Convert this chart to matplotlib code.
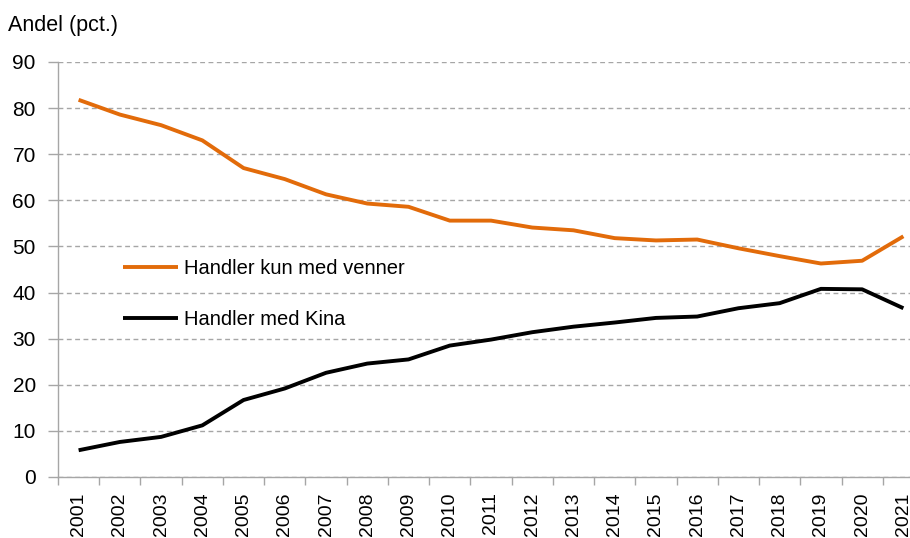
import matplotlib.pyplot as plt
from matplotlib.ticker import MultipleLocator, FixedLocator

plt.rcParams['font.family'] = ['Liberation Sans', 'DejaVu Sans']

years = [str(y) for y in range(2001, 2022)]
kun_venner = [81.8, 78.6, 76.3, 73.0, 67.0, 64.6, 61.3, 59.3, 58.6, 55.6, 55.6,
              54.1, 53.5, 51.8, 51.3, 51.5, 49.6, 47.9, 46.3, 46.9, 52.2]
med_kina = [5.8, 7.6, 8.7, 11.2, 16.7, 19.2, 22.6, 24.6, 25.5, 28.5, 29.8,
            31.4, 32.6, 33.5, 34.5, 34.8, 36.6, 37.7, 40.8, 40.7, 36.6]
labels = ['Handler kun med venner', 'Handler med Kina']


def draw_plot():
	""" Draws the chart and saves it """
	fig = plt.figure(figsize=(9.10, 5.38), dpi=100)
	# axes runs a bit past the right edge, like in the original
	ax = fig.add_axes([58 / 910, 61 / 538, 866 / 910, 415 / 538])
	x = list(range(len(years)))
	ax.plot(x, kun_venner, color='#E26B0A', lw=2.8, label=labels[0], solid_capstyle='butt')
	ax.plot(x, med_kina, color='black', lw=2.8, label=labels[1], solid_capstyle='butt')

	ax.set_xlim(-0.5, len(years) - 0.5)
	ax.set_ylim(0, 90)
	ax.yaxis.set_major_locator(MultipleLocator(10))
	ax.grid(axis='y', color='#A6A6A6', linestyle=(0, (3.5, 2.5)), lw=1)
	ax.set_axisbelow(True)

	ax.set_xticks(x)
	ax.set_xticklabels(years, rotation=90)
	ax.xaxis.set_minor_locator(FixedLocator([i - 0.5 for i in range(len(years) + 1)]))
	ax.tick_params(axis='x', which='major', length=0, pad=11, labelsize=14)
	ax.tick_params(axis='x', which='minor', length=6, color='#A6A6A6', width=1)
	ax.tick_params(axis='y', length=7, color='#A6A6A6', width=1, labelsize=15, pad=9)

	for side in ['top', 'right']:
		ax.spines[side].set_visible(False)
	for side in ['left', 'bottom']:
		ax.spines[side].set_color('#A6A6A6')
		ax.spines[side].set_linewidth(1)

	fig.text(8 / 910, 1 - 25 / 538, 'Andel (pct.)', fontsize=15.5, va='center', ha='left')

	ax.legend(loc='upper left', bbox_to_anchor=(47 / 866, 1 - 179 / 415), frameon=False,
	          fontsize=14.5, handlelength=2.7, handletextpad=0.3, labelspacing=1.6)
	fig.savefig('out.png', dpi=100)


if __name__ == "__main__":
	draw_plot()
